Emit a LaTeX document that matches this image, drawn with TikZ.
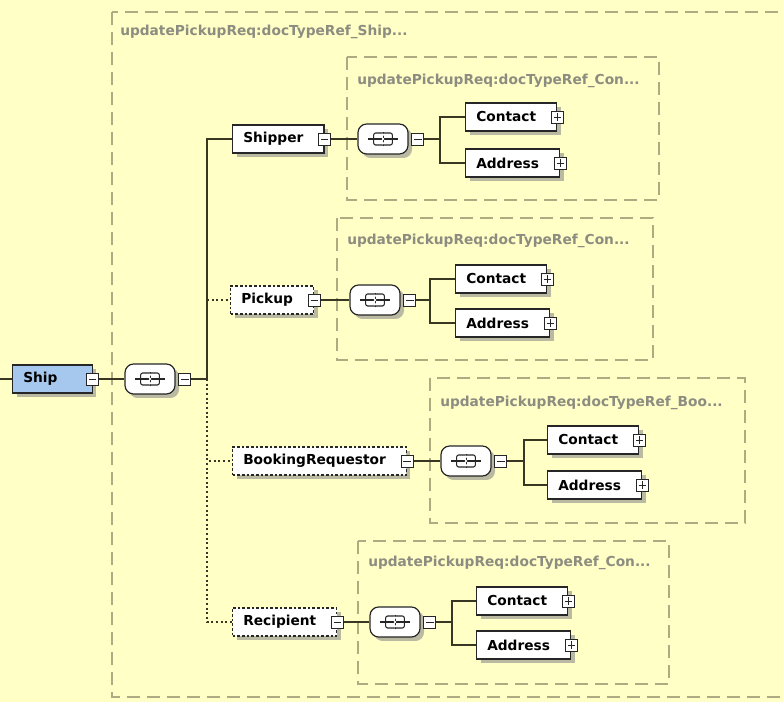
\documentclass[tikz,border=0pt]{standalone}
\usepackage{fontspec}
\newfontfamily\xsdfont{DejaVu Sans}
\usetikzlibrary{shadows}
\definecolor{paneyellow}{RGB}{255,255,198}
\definecolor{groupline}{RGB}{175,170,130}
\definecolor{grouptext}{RGB}{140,140,128}
\definecolor{wireline}{RGB}{55,55,35}
\definecolor{shipblue}{RGB}{166,200,238}
\begin{document}
\begin{tikzpicture}[x=0.75pt,y=0.75pt,yscale=-1,xscale=1,
  groupbox/.style={draw=groupline, line width=1.1pt, dash pattern=on 10pt off 5pt},
  grouptitle/.style={anchor=west, inner sep=0pt, text=grouptext, font=\xsdfont\bfseries\fontsize{10.3pt}{12pt}\selectfont},
  elem/.style={draw=black!85, fill=white, line width=0.9pt, anchor=west, minimum height=21pt, inner xsep=8pt, inner ysep=0pt,
    font=\xsdfont\bfseries\fontsize{10.3pt}{12pt}\selectfont, execute at end node={\hspace{#1}},
    drop shadow={shadow xshift=3pt, shadow yshift=-3pt, fill=black!45, opacity=0.6}},
  elem/.default=7.5pt,
  optelem/.style={elem, dash pattern=on 2pt off 1.5pt},
  minus/.style={draw=black!85, fill=white, line width=0.7pt, minimum size=9pt, inner sep=0pt,
    path picture={\draw[line width=0.7pt] ([xshift=-2.7pt]path picture bounding box.center) -- ([xshift=2.7pt]path picture bounding box.center);}},
  plus/.style={draw=black!85, fill=white, line width=0.7pt, minimum size=9pt, inner sep=0pt,
    path picture={\draw[line width=0.7pt] ([xshift=-2.7pt]path picture bounding box.center) -- ([xshift=2.7pt]path picture bounding box.center);
      \draw[line width=0.7pt] ([yshift=-2.7pt]path picture bounding box.center) -- ([yshift=2.7pt]path picture bounding box.center);}},
  seq/.style={rectangle, rounded corners=6.5pt, draw=black!85, fill=white, line width=0.9pt,
    minimum width=37.5pt, minimum height=22.5pt, inner sep=0pt,
    drop shadow={shadow xshift=3pt, shadow yshift=-3pt, fill=black!45, opacity=0.6},
    path picture={\draw[line width=0.8pt] ([xshift=-11pt]path picture bounding box.center) -- ([xshift=11pt]path picture bounding box.center);
      \draw[line width=0.8pt, rounded corners=1.5pt] ([xshift=-7pt,yshift=-4.5pt]path picture bounding box.center) rectangle ([xshift=7pt,yshift=4.5pt]path picture bounding box.center);
      \draw[line width=0.6pt] ([yshift=-5.5pt]path picture bounding box.center) -- ([yshift=5.5pt]path picture bounding box.center);
      \fill ([yshift=-3.2pt]path picture bounding box.center) circle[radius=1.1pt];
      \fill (path picture bounding box.center) circle[radius=1.1pt];
      \fill ([yshift=3.2pt]path picture bounding box.center) circle[radius=1.1pt];}},
  wire/.style={draw=wireline, line width=1.1pt},
  optwire/.style={wire, dash pattern=on 1.5pt off 2pt}
]
\fill[paneyellow] (0,0) rectangle (783,702);
\useasboundingbox (0,0) rectangle (783,702);
\clip (0,0) rectangle (783,702);

%Shape: Rectangle [outer group]
\draw[groupbox] (112,12) rectangle (800,697);
% Text Node
\draw (120,32) node[grouptitle] (titleship) {updatePickupReq:docTypeRef\_Ship...};
%Shape: Rectangle [shipper group]
\draw[groupbox] (347,57) rectangle (659,200);
% Text Node
\draw (357,81) node[grouptitle] (titleshipper) {updatePickupReq:docTypeRef\_Con...};
%Shape: Rectangle [pickup group]
\draw[groupbox] (337,218) rectangle (653,360);
% Text Node
\draw (347,241) node[grouptitle] (titlepickup) {updatePickupReq:docTypeRef\_Con...};
%Shape: Rectangle [booking group]
\draw[groupbox] (430,378) rectangle (745,523);
% Text Node
\draw (440,403) node[grouptitle] (titlebooking) {updatePickupReq:docTypeRef\_Boo...};
%Shape: Rectangle [recipient group]
\draw[groupbox] (358,541) rectangle (669,684);
% Text Node
\draw (368,563) node[grouptitle] (titlerecipient) {updatePickupReq:docTypeRef\_Con...};

% Ship
\node[elem=18pt, fill=shipblue] (ship) at (12,379) {Ship};
\node[minus] (shippm) at (ship.east) {};
\node[seq] (seq0) at (150,379) {};
\node[minus] (seq0pm) at ([xshift=7pt]seq0.east) {};
\coordinate (shipin) at (0,379);
\coordinate (fork0) at (207,379);

% Shipper
\node[elem] (shipper) at (232,139) {Shipper};
\node[minus] (shipperpm) at (shipper.east) {};
\node[seq] (seq1) at (383,139) {};
\node[minus] (seq1pm) at ([xshift=7pt]seq1.east) {};
\coordinate (fork1) at (440,139);
\node[elem] (contact1) at (465,117) {Contact};
\node[plus] (contact1pm) at (contact1.east) {};
\node[elem] (address1) at (465,163) {Address};
\node[plus] (address1pm) at (address1.east) {};

% Pickup
\node[optelem] (pickup) at (230,300) {Pickup};
\node[minus] (pickuppm) at (pickup.east) {};
\node[seq] (seq2) at (375,300) {};
\node[minus] (seq2pm) at ([xshift=7pt]seq2.east) {};
\coordinate (fork2) at (430,300);
\node[elem] (contact2) at (455,279) {Contact};
\node[plus] (contact2pm) at (contact2.east) {};
\node[elem] (address2) at (455,323) {Address};
\node[plus] (address2pm) at (address2.east) {};

% BookingRequestor
\node[optelem] (booking) at (232,461) {BookingRequestor};
\node[minus] (bookingpm) at (booking.east) {};
\node[seq] (seq3) at (466,461) {};
\node[minus] (seq3pm) at ([xshift=7pt]seq3.east) {};
\coordinate (fork3) at (524,461);
\node[elem] (contact3) at (547,440) {Contact};
\node[plus] (contact3pm) at (contact3.east) {};
\node[elem] (address3) at (547,485) {Address};
\node[plus] (address3pm) at (address3.east) {};

% Recipient
\node[optelem] (recipient) at (232,622) {Recipient};
\node[minus] (recipientpm) at (recipient.east) {};
\node[seq] (seq4) at (395,622) {};
\node[minus] (seq4pm) at ([xshift=7pt]seq4.east) {};
\coordinate (fork4) at (452,622);
\node[elem] (contact4) at (476,601) {Contact};
\node[plus] (contact4pm) at (contact4.east) {};
\node[elem] (address4) at (476,645) {Address};
\node[plus] (address4pm) at (address4.east) {};

%Straight Lines
\draw[wire] (shipin) -- (ship.west);
\draw[wire] (shippm.east) -- (seq0.west);
\draw[wire] (seq0pm.east) -- (fork0);
\draw[wire] (fork0) |- (shipper.west);
\draw[optwire] (fork0 |- pickup.west) -- (pickup.west);
\draw[optwire] (fork0) |- (booking.west);
\draw[optwire] (fork0) |- (recipient.west);

\draw[wire] (shipperpm.east) -- (seq1.west);
\draw[wire] (seq1pm.east) -- (fork1) |- (contact1.west);
\draw[wire] (fork1) |- (address1.west);

\draw[wire] (pickuppm.east) -- (seq2.west);
\draw[wire] (seq2pm.east) -- (fork2) |- (contact2.west);
\draw[wire] (fork2) |- (address2.west);

\draw[wire] (bookingpm.east) -- (seq3.west);
\draw[wire] (seq3pm.east) -- (fork3) |- (contact3.west);
\draw[wire] (fork3) |- (address3.west);

\draw[wire] (recipientpm.east) -- (seq4.west);
\draw[wire] (seq4pm.east) -- (fork4) |- (contact4.west);
\draw[wire] (fork4) |- (address4.west);

\end{tikzpicture}
\end{document}
